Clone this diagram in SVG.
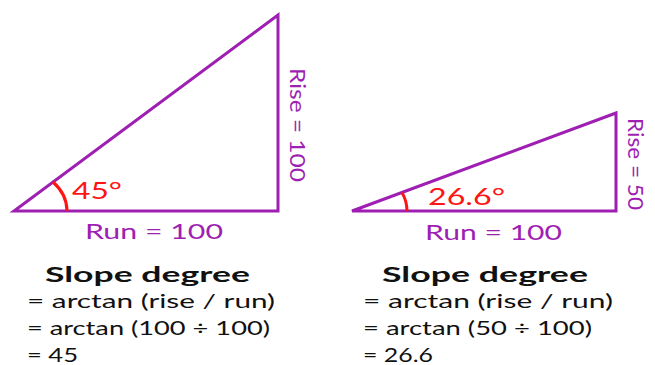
<svg xmlns="http://www.w3.org/2000/svg" width="655" height="365" viewBox="0 0 655 365">
<style>
.tri{fill:none;stroke:#9e1fb2;stroke-width:3;stroke-linejoin:miter}
.arc{fill:none;stroke:#ff1414;stroke-width:3}
.lbl{font-family:Lato,"Liberation Sans",sans-serif;font-size:22px;fill:#9e1fb2}
.ang{font-family:Lato,"Liberation Sans",sans-serif;font-size:23px;fill:#ff1414}
.ttl{font-family:Lato,"Liberation Sans",sans-serif;font-size:20px;font-weight:bold;fill:#111}
.eq{font-family:Lato,"Liberation Sans",sans-serif;font-size:19px;fill:#111}
</style>
<rect width="655" height="365" fill="#fff"/>
<g id="triangle1">
<polygon class="tri" points="14,211 278,211 278,15"/>
<path class="arc" d="M67,211 A53,43 0 0 0 53,182"/>
<text class="ang" x="72" y="199" textLength="50" lengthAdjust="spacingAndGlyphs">45°</text>
<text class="lbl" x="85" y="239" textLength="138" lengthAdjust="spacingAndGlyphs">Run = 100</text>
<text class="lbl" transform="translate(290,68) rotate(90)" x="0" y="0" textLength="114" lengthAdjust="spacingAndGlyphs">Rise = 100</text>
</g>
<g id="triangle2">
<polygon class="tri" points="352,211 616,211 616,113"/>
<path class="arc" d="M407,211 A55,44 0 0 0 402,192.5"/>
<text class="ang" x="428" y="205" textLength="77" lengthAdjust="spacingAndGlyphs">26.6°</text>
<text class="lbl" x="425" y="240" textLength="137" lengthAdjust="spacingAndGlyphs">Run = 100</text>
<text class="lbl" transform="translate(628,118) rotate(90)" x="0" y="0" textLength="92" lengthAdjust="spacingAndGlyphs">Rise = 50</text>
</g>
<g id="formula1">
<text class="ttl" x="45" y="282" textLength="205" lengthAdjust="spacingAndGlyphs">Slope degree</text>
<text class="eq" x="27" y="308" textLength="248" lengthAdjust="spacingAndGlyphs">= arctan (rise / run)</text>
<text class="eq" x="27" y="335" textLength="243" lengthAdjust="spacingAndGlyphs">= arctan (100 ÷ 100)</text>
<text class="eq" x="27" y="362" textLength="51" lengthAdjust="spacingAndGlyphs">= 45</text>
</g>
<g id="formula2">
<text class="ttl" x="382" y="282" textLength="206" lengthAdjust="spacingAndGlyphs">Slope degree</text>
<text class="eq" x="363" y="308" textLength="250" lengthAdjust="spacingAndGlyphs">= arctan (rise / run)</text>
<text class="eq" x="363" y="335" textLength="229" lengthAdjust="spacingAndGlyphs">= arctan (50 ÷ 100)</text>
<text class="eq" x="363" y="362" textLength="70" lengthAdjust="spacingAndGlyphs">= 26.6</text>
</g>
<g id="connectors"/>
</svg>
